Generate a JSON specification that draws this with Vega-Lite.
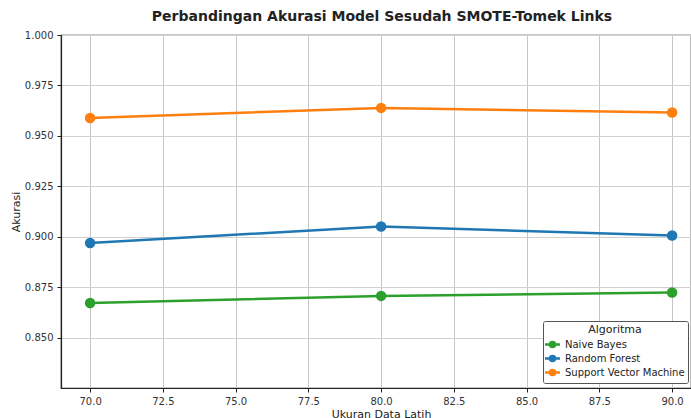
{
  "$schema": "https://vega.github.io/schema/vega-lite/v6.json",
  "width": 630,
  "height": 353,
  "autosize": "none",
  "padding": {"left": 61, "top": 35, "right": 0, "bottom": 30},
  "title": {"text": "Perbandingan Akurasi Model Sesudah SMOTE-Tomek Links", "font": "DejaVu Sans", "fontSize": 14, "fontWeight": "bold", "color": "#222", "anchor": "middle", "dx": 6, "offset": 6},
  "config": {
    "view": {"stroke": "#222", "strokeWidth": 1.2},
    "font": "DejaVu Sans",
    "axis": {"labelFont": "DejaVu Sans", "titleFont": "DejaVu Sans", "labelFontSize": 10, "titleFontSize": 11, "labelColor": "#333", "titleColor": "#222", "titleFontWeight": "normal", "domainColor": "#222", "domainWidth": 1.2, "tickColor": "#222", "tickSize": 4, "labelPadding": 4}
  },
  "data": {"values": [
    {"ukuran": 70, "akurasi": 0.8673, "algoritma": "Naive Bayes"},
    {"ukuran": 80, "akurasi": 0.8708, "algoritma": "Naive Bayes"},
    {"ukuran": 90, "akurasi": 0.8725, "algoritma": "Naive Bayes"},
    {"ukuran": 70, "akurasi": 0.8970, "algoritma": "Random Forest"},
    {"ukuran": 80, "akurasi": 0.9052, "algoritma": "Random Forest"},
    {"ukuran": 90, "akurasi": 0.9007, "algoritma": "Random Forest"},
    {"ukuran": 70, "akurasi": 0.9589, "algoritma": "Support Vector Machine"},
    {"ukuran": 80, "akurasi": 0.9639, "algoritma": "Support Vector Machine"},
    {"ukuran": 90, "akurasi": 0.9616, "algoritma": "Support Vector Machine"}
  ]},
  "mark": {"type": "line", "strokeWidth": 2.5, "point": {"filled": true, "size": 110, "opacity": 1}},
  "encoding": {
    "x": {"field": "ukuran", "type": "quantitative", "title": "Ukuran Data Latih",
      "scale": {"domain": [69, 90.65], "nice": false, "zero": false},
      "axis": {"values": [70, 72.5, 75, 77.5, 80, 82.5, 85, 87.5, 90], "format": ".1f", "gridColor": "#b8b8b8", "gridOpacity": 0.8, "titlePadding": 2, "titleX": 320}},
    "y": {"field": "akurasi", "type": "quantitative", "title": "Akurasi",
      "scale": {"domain": [0.8252, 1.0], "nice": false, "zero": false},
      "axis": {"values": [0.85, 0.875, 0.9, 0.925, 0.95, 0.975, 1.0], "format": ".3f", "gridColor": "#d0d0d0", "titlePadding": 3}},
    "color": {"field": "algoritma", "type": "nominal", "title": "Algoritma",
      "scale": {"domain": ["Naive Bayes", "Random Forest", "Support Vector Machine"], "range": ["#2ca02c", "#1f77b4", "#ff7f0e"]},
      "legend": {"orient": "none", "legendX": 482, "legendY": 286, "titleAnchor": "middle", "titleFontSize": 11, "titleFontWeight": "normal", "titleColor": "#222", "titlePadding": 3, "labelFontSize": 10, "labelColor": "#222", "labelOffset": 6, "fillColor": "white", "strokeColor": "#555", "padding": 3, "cornerRadius": 2, "rowPadding": -1, "symbolType": "M-1.5,0H1.5M-0.5,0A0.5,0.5 0 1,0 0.5,0A0.5,0.5 0 1,0 -0.5,0", "symbolSize": 100, "symbolStrokeWidth": 2.5, "symbolOpacity": 1}}
  }
}
